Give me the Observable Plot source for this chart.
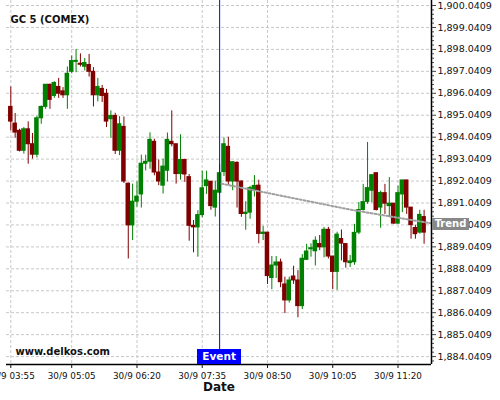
<!DOCTYPE html>
<html>
<head>
<meta charset="utf-8">
<script src="https://cdn.jsdelivr.net/npm/d3@7"></script>
<script src="https://cdn.jsdelivr.net/npm/@observablehq/plot@0.6"></script>
<style>
  html, body { margin: 0; padding: 0; background: #fff; }
  #wrap { position: relative; width: 500px; height: 400px; overflow: hidden; font-family: "DejaVu Sans", sans-serif; }
  .tag { position: absolute; color: #fff; font-weight: bold; font-size: 10px; text-align: center; box-sizing: border-box; }
</style>
</head>
<body>
<div id="wrap"></div>
<script>
// ---- data ----
const openP = [1895.42,1894.66,1894.33,1893.42,1894.40,1893.72,1893.24,1894.90,1895.42,1896.43,
  1895.92,1896.33,1896.13,1895.95,1897.02,1897.47,1897.39,1897.25,1897.33,1897.02,
  1895.95,1896.24,1896.02,1894.86,1895.01,1893.42,1894.51,1891.92,1890.02,1891.10,
  1891.43,1892.83,1892.92,1893.83,1892.43,1891.83,1892.51,1893.83,1893.72,1892.36,
  1893.00,1892.22,1890.00,1889.93,1890.49,1891.81,1892.01,1890.83,1891.51,1892.45,
  1893.60,1892.02,1892.87,1892.02,1890.54,1890.60,1891.60,1891.83,1889.63,1889.69,
  1887.62,1888.19,1888.33,1887.33,1886.60,1887.69,1887.51,1886.34,1888.45,1888.93,
  1888.84,1889.17,1889.02,1889.82,1888.60,1887.90,1889.40,1889.17,1888.30,1888.34,
  1889.69,1890.72,1891.09,1891.60,1892.40,1890.83,1891.49,1890.90,1891.01,1890.10,
  1891.43,1892.07,1890.83,1889.90,1889.69,1890.40];
const highP = [1896.33,1895.12,1894.40,1894.48,1894.74,1894.21,1894.99,1895.46,1896.43,1896.45,
  1896.57,1896.72,1896.30,1897.24,1897.74,1898.04,1897.84,1897.63,1897.81,1897.21,
  1896.72,1896.40,1896.22,1895.24,1895.13,1894.98,1894.96,1891.95,1891.90,1892.00,
  1893.22,1893.22,1894.24,1893.95,1893.00,1893.04,1894.23,1895.24,1893.72,1894.15,
  1893.04,1892.34,1890.24,1890.69,1892.49,1892.49,1892.01,1892.04,1892.80,1894.00,
  1894.04,1892.92,1892.92,1892.05,1891.10,1891.80,1892.29,1892.08,1889.98,1889.69,
  1888.60,1888.60,1888.48,1887.66,1887.66,1888.16,1887.96,1888.69,1889.16,1889.18,
  1889.50,1889.56,1889.93,1889.93,1888.60,1889.71,1889.81,1889.17,1888.65,1890.07,
  1891.06,1891.89,1893.80,1892.31,1892.40,1891.58,1891.89,1892.20,1891.01,1891.81,
  1892.07,1892.07,1890.83,1890.03,1890.71,1890.71];
const lowP = [1894.33,1893.99,1893.37,1893.27,1892.81,1893.04,1893.09,1894.63,1895.31,1895.31,
  1895.81,1895.81,1895.81,1895.31,1896.93,1896.98,1897.24,1897.06,1896.78,1895.42,
  1895.65,1895.62,1894.48,1893.99,1893.25,1893.20,1891.93,1888.49,1889.33,1890.85,
  1890.81,1892.50,1892.58,1892.28,1891.83,1891.45,1892.00,1893.60,1891.90,1892.08,
  1891.98,1889.30,1888.77,1888.57,1890.37,1891.43,1890.71,1890.40,1891.45,1892.25,
  1891.85,1891.60,1890.81,1890.39,1889.80,1890.30,1891.31,1889.18,1889.33,1887.33,
  1887.09,1887.60,1887.18,1886.00,1886.48,1887.33,1885.81,1886.18,1888.42,1888.57,
  1888.17,1888.87,1888.54,1888.49,1887.09,1887.06,1888.40,1888.07,1888.10,1888.20,
  1889.60,1890.68,1890.98,1891.05,1890.68,1889.89,1890.52,1890.37,1890.07,1890.07,
  1890.60,1890.52,1889.39,1889.39,1889.62,1889.16];
const closeP = [1894.75,1894.25,1893.42,1894.40,1893.72,1893.24,1894.90,1895.42,1896.43,1895.74,
  1896.51,1896.02,1895.95,1896.93,1897.51,1897.52,1897.34,1897.42,1897.02,1895.95,
  1896.33,1895.92,1894.75,1895.01,1893.42,1894.63,1892.02,1890.02,1891.10,1891.33,
  1892.83,1892.92,1893.92,1892.43,1892.02,1892.70,1893.92,1893.72,1892.36,1893.00,
  1892.34,1890.00,1889.93,1890.49,1891.71,1892.07,1890.90,1891.60,1892.40,1893.72,
  1892.02,1892.90,1892.02,1890.54,1890.60,1891.72,1891.82,1889.63,1889.69,1887.71,
  1888.19,1888.33,1887.43,1886.60,1887.51,1887.51,1886.34,1888.50,1888.83,1888.98,
  1889.32,1889.02,1889.82,1888.60,1887.90,1889.60,1889.19,1888.34,1888.38,1889.68,
  1890.72,1891.08,1891.72,1892.31,1890.72,1891.50,1891.01,1891.01,1890.10,1891.49,
  1892.07,1890.83,1890.03,1889.62,1890.50,1889.69];

const tickIdx = [0, 14, 29, 44, 59, 74, 89];
const tickLabels = ["30/9 03:55","30/9 05:05","30/9 06:20","30/9 07:35","30/9 08:50","30/9 10:05","30/9 11:20"];
const yTicks = [1884.0409,1885.0409,1886.0409,1887.0409,1888.0409,1889.0409,1890.0409,1891.0409,
  1892.0409,1893.0409,1894.0409,1895.0409,1896.0409,1897.0409,1898.0409,1899.0409,1900.0409];
const eventIdx = [48];
const trendIdx = [48.4, 78.5, 96.7];
const trendVal = [1891.92, 1890.72, 1890.11];

// ---- build ----
const candles = openP.map((o, k) => ({
  i: k, open: o, high: highP[k], low: lowP[k], close: closeP[k],
  dir: closeP[k] >= o ? "up" : "down"
}));
const trend = trendIdx.map((t, k) => ({i: t, v: trendVal[k]}));
const minorTicks = d3.range(1883.8409, 1900.2, 0.2).filter(v => !yTicks.some(t => Math.abs(t - v) < 1e-6));
const xDom = [-0.99, 96.7];
const yDom = [1883.68, 1900.27];
const grid = "#c8c8c8";

const chart = Plot.plot({
  width: 500, height: 400,
  marginTop: 0, marginBottom: 36, marginLeft: 6, marginRight: 69,
  x: {domain: xDom},
  y: {domain: yDom},
  color: {domain: ["up", "down"], range: ["#008000", "#800000"]},
  style: {fontFamily: "DejaVu Sans", fontSize: "9.5px", color: "#111", background: "white", overflow: "visible"},
  marks: [
    Plot.ruleY(yTicks, {stroke: grid, strokeDasharray: "3,2"}),
    Plot.ruleX(tickIdx, {stroke: grid, strokeDasharray: "3,2"}),
    Plot.ruleX(candles, {x: "i", y1: "low", y2: "high", stroke: "dir", strokeWidth: 1}),
    Plot.rect(candles, {x1: d => d.i - 0.52, x2: d => d.i + 0.52, y1: "open", y2: "close", fill: "dir", insetTop: -0.5, insetBottom: -0.5}),
    Plot.line(trend, {x: "i", y: "v", stroke: "#a0a0a0", strokeWidth: 2, strokeDasharray: "2,2"}),
    Plot.ruleX(eventIdx, {stroke: "#0000ff", strokeWidth: 1}),
    Plot.ruleY([yDom[0]], {stroke: "#000", strokeWidth: 1.5}),
    Plot.ruleX([xDom[1]], {stroke: "#000", strokeWidth: 1.5}),
    Plot.axisY(minorTicks, {anchor: "right", tickSize: 2, tickFormat: () => "", label: null, stroke: "#444"}),
    Plot.axisY(yTicks, {anchor: "right", tickSize: 4, tickPadding: 2, tickFormat: d3.format(",.4f"), fontSize: 9.5, label: null, stroke: "#444"}),
    Plot.axisX(tickIdx, {anchor: "bottom", tickSize: 4, tickPadding: 4, tickFormat: d => tickLabels[tickIdx.indexOf(d)], fontSize: 8.8, label: null}),
    Plot.text(["Date"], {frameAnchor: "bottom", dy: 26, fontWeight: "bold", fontSize: 12}),
    Plot.text(["GC 5 (COMEX)"], {frameAnchor: "top-left", dx: 4, dy: 15, textAnchor: "start", fontWeight: "bold", fontSize: 10}),
    Plot.text(["www.delkos.com"], {frameAnchor: "bottom-left", dx: 9, dy: -10, textAnchor: "start", fontWeight: "bold", fontSize: 10})
  ]
});

const wrap = document.getElementById("wrap");
wrap.appendChild(chart);

const xs = chart.scale("x"), ys = chart.scale("y");
// Event tag
const ev = document.createElement("div");
ev.className = "tag";
ev.textContent = "Event";
const ex = xs.apply(eventIdx[0]);
Object.assign(ev.style, {left: (ex - 22) + "px", top: "349px", width: "44px", height: "15px", lineHeight: "15px", background: "#0000ff", fontSize: "10.5px"});
wrap.appendChild(ev);
// Trend tag
const tr = document.createElement("div");
tr.className = "tag";
tr.textContent = "Trend";
const ty = ys.apply(trendVal[trendVal.length - 1]);
Object.assign(tr.style, {left: (xs.apply(xDom[1]) + 1) + "px", top: (ty - 5) + "px", width: "37px", height: "12px", lineHeight: "12px", background: "#888"});
wrap.appendChild(tr);
</script>
</body>
</html>
